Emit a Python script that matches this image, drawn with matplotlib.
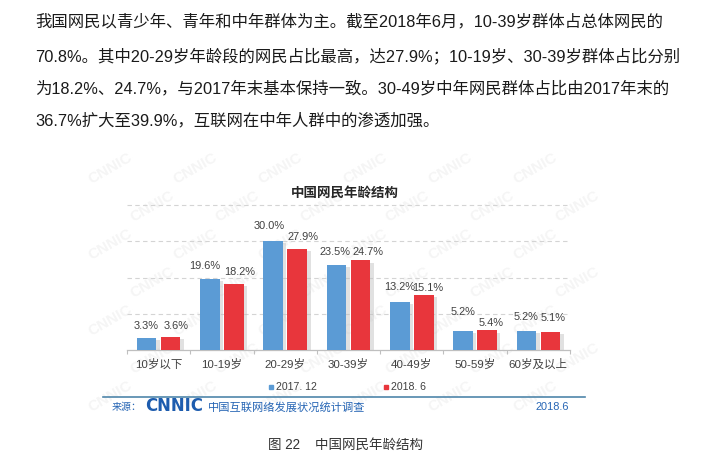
import matplotlib
matplotlib.use("Agg")
import matplotlib.pyplot as plt
import matplotlib.patheffects as pe
import numpy as np

plt.rcParams['font.family'] = ['Liberation Sans', 'Noto Sans CJK SC', 'DejaVu Sans']

# ---------------- data ----------------
categories = ["10岁以下", "10-19岁", "20-29岁", "30-39岁", "40-49岁", "50-59岁", "60岁及以上"]
series_names = ["2017. 12", "2018. 6"]
values_2017 = [3.3, 19.6, 30.0, 23.5, 13.2, 5.2, 5.2]
values_2018 = [3.6, 18.2, 27.9, 24.7, 15.1, 5.4, 5.1]
y_ticks = [10, 20, 30, 40]
chart_title = "中国网民年龄结构"
paragraph = [
    "我国网民以青少年、青年和中年群体为主。截至2018年6月，10-39岁群体占总体网民的",
    "70.8%。其中20-29岁年龄段的网民占比最高，达27.9%；10-19岁、30-39岁群体占比分别",
    "为18.2%、24.7%，与2017年末基本保持一致。30-49岁中年网民群体占比由2017年末的",
    "36.7%扩大至39.9%，互联网在中年人群中的渗透加强。",
]
source_label = "来源："
source_logo = "CNNIC"
source_text = "中国互联网络发展状况统计调查"
source_date = "2018.6"
caption = "图 22    中国网民年龄结构"
watermark = "CNNIC"

# label offsets (pixels) - styling only
dx_blue = [0, -5, -4, -1, 0, 0, 0]
dy_blue = [12, 13, 15, 13, 15, 19, 14]
dx_red = [5, 6, 6, 7, 4, 4, 3]
dy_red = [11, 12, 12, 8, 7, 7, 14]

W, H = 708, 465
fig = plt.figure(figsize=(W / 100, H / 100), dpi=100)
fig.patch.set_facecolor("white")

def fx(x):
    return x / W

def fy(y):
    return 1 - y / H

PT = 0.72  # px -> pt at 100 dpi

# background axes for the faint watermark
bg = fig.add_axes([0, 0, 1, 1], zorder=-1)
bg.set_xlim(0, W)
bg.set_ylim(H, 0)
bg.axis("off")
for row in range(7):
    for col in range(7):
        wx = 110 + col * 85 + (row % 2) * 42
        wy = 168 + row * 38
        if wx > 600:
            continue
        bg.text(wx, wy, watermark, fontsize=11, fontweight="bold", color="#f5f5f5",
                rotation=30, ha="center", va="center")

# paragraph
line_y = [22, 56, 89, 121]
for t, y in zip(paragraph, line_y):
    fig.text(fx(35), fy(y), t, fontsize=16.4 * PT, color="#1a1a1a", ha="left", va="center")

# axes
L, R, B, T = 127, 570, 350, 205
ax = fig.add_axes([fx(L), fy(B), (R - L) / W, (B - T) / H], zorder=1)
ax.set_facecolor("none")
x = np.arange(len(categories))
bw = 0.31
off = 0.19
shadow = [pe.SimplePatchShadow(offset=(2.5, -1.5), shadow_rgbFace="#bdbdbd", alpha=0.45), pe.Normal()]
b1 = ax.bar(x - off, values_2017, bw, color="#5b9bd5", zorder=3, label=series_names[0])
b2 = ax.bar(x + off, values_2018, bw, color="#e8363c", zorder=3, label=series_names[1])
for b in list(b1) + list(b2):
    b.set_path_effects(shadow)

ax.set_xlim(-0.5, len(categories) - 0.5)
ax.set_ylim(0, 40)
ax.set_yticks(y_ticks)
ax.yaxis.grid(True, color="#d4d4d4", linestyle=(0, (4, 3)), linewidth=0.8, zorder=0)
for t in ax.yaxis.get_gridlines():
    t.set_clip_on(False)
ax.tick_params(axis="y", left=False, labelleft=False)
for s in ["top", "left", "right"]:
    ax.spines[s].set_visible(False)
ax.spines["bottom"].set_color("#bfbfbf")
ax.spines["bottom"].set_linewidth(0.9)
ax.set_xticks(x)
ax.set_xticklabels(categories, fontsize=11.5 * PT, color="#404040")
ax.tick_params(axis="x", length=0, pad=6.5)
ax.set_xticks(np.arange(len(categories) + 1) - 0.5, minor=True)
ax.tick_params(axis="x", which="minor", length=3, color="#bfbfbf", width=0.8)

for i in range(len(categories)):
    ax.annotate(f"{values_2017[i]:.1f}%", (x[i] - off, values_2017[i]),
                xytext=(dx_blue[i] * PT, dy_blue[i] * PT), textcoords="offset points",
                ha="center", va="center", fontsize=11 * PT, color="#404040", zorder=5)
    ax.annotate(f"{values_2018[i]:.1f}%", (x[i] + off, values_2018[i]),
                xytext=(dx_red[i] * PT, dy_red[i] * PT), textcoords="offset points",
                ha="center", va="center", fontsize=11 * PT, color="#404040", zorder=5)

# chart title
fig.text(fx(345), fy(193), chart_title, fontsize=13.5 * PT, fontweight="bold",
         color="#262626", ha="center", va="center")

# legend (manual, small squares)
leg = [(271, series_names[0], "#5b9bd5"), (386, series_names[1], "#e8363c")]
for lx, name, c in leg:
    fig.patches.append(plt.Rectangle((fx(lx - 2), fy(389)), 4 / W, 4 / H, color=c,
                                     transform=fig.transFigure, figure=fig))
    fig.text(fx(lx + 5), fy(387), name, fontsize=10.5 * PT, color="#404040",
             ha="left", va="center")

# separator line
fig.add_artist(plt.Line2D([fx(103), fx(585)], [fy(397), fy(397)], color="#4f86aa",
                          linewidth=1.2, transform=fig.transFigure))

# source row
blue = "#2766b5"
fig.text(fx(112), fy(407), source_label, fontsize=10 * PT, color=blue, ha="left", va="center")
fig.text(fx(145), fy(406), source_logo, fontsize=16.5 * PT, fontweight="heavy", color="#1d5cae",
         ha="left", va="center", family="DejaVu Sans")
fig.text(fx(208), fy(407), source_text, fontsize=11.2 * PT, color=blue, ha="left", va="center")
fig.text(fx(552), fy(407), source_date, fontsize=11 * PT, color=blue, ha="center", va="center")

# caption
fig.text(fx(345), fy(445), caption, fontsize=13.5 * PT, color="#333333", ha="center", va="center")

fig.savefig("out.png", dpi=100, facecolor="white")
